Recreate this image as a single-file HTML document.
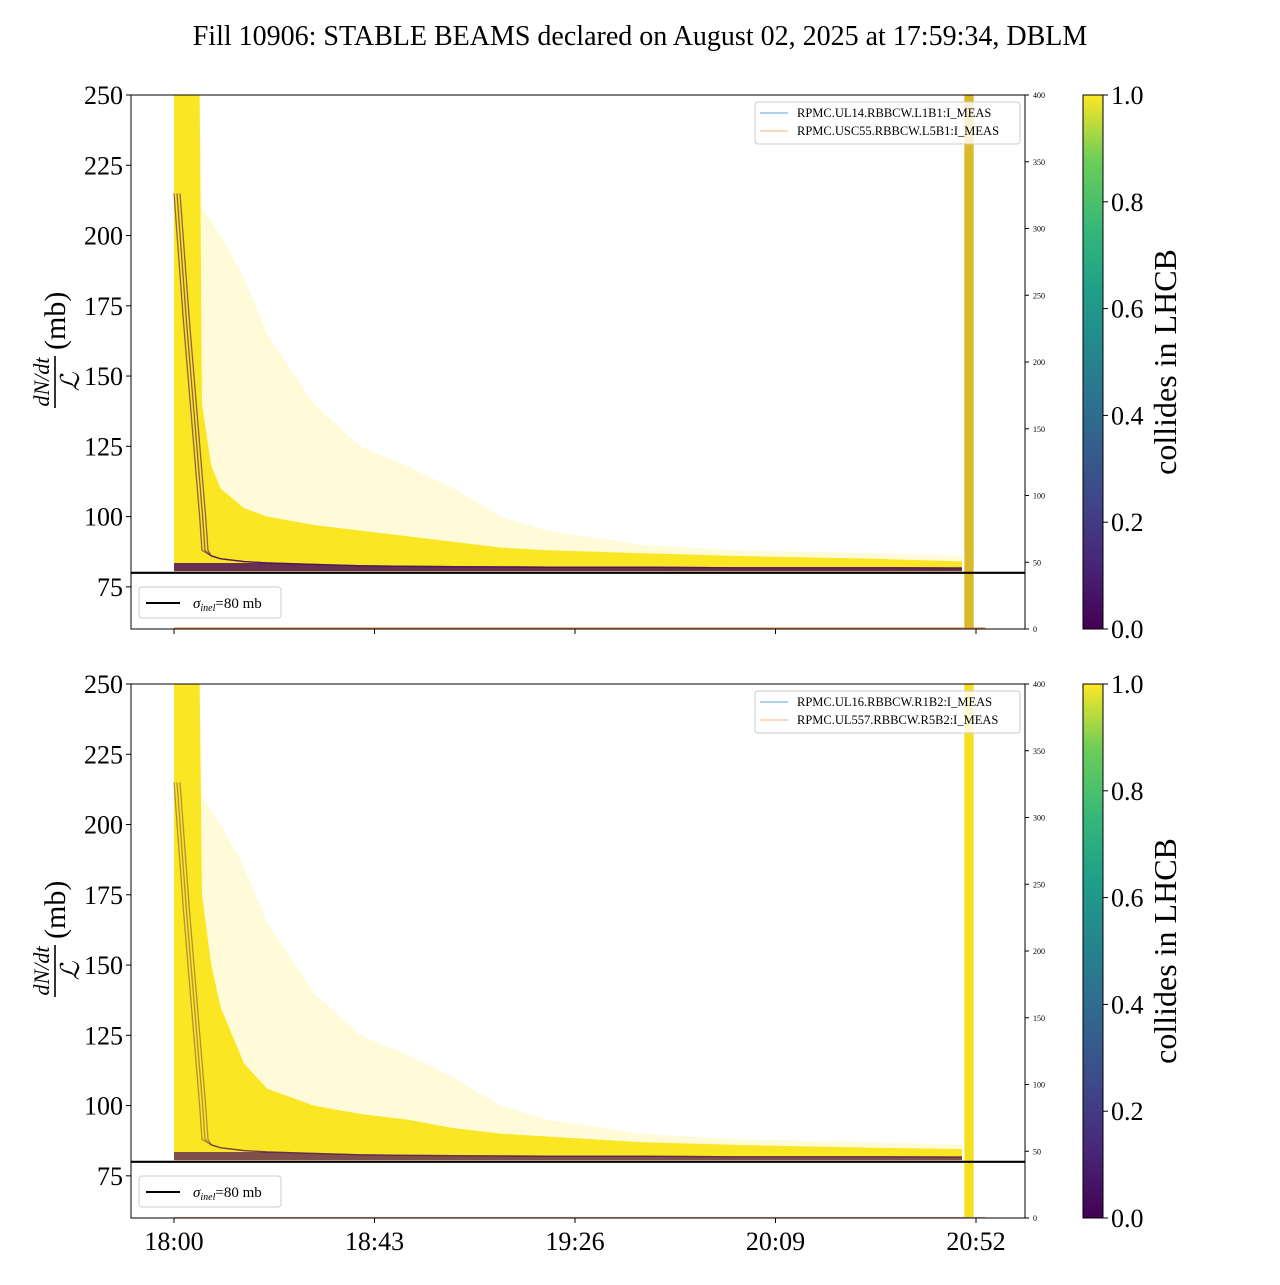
<!DOCTYPE html>
<html><head><meta charset="utf-8">
<style>
body{margin:0;background:#fff;}
svg text{font-family:"Liberation Serif",serif;}
</style></head>
<body>
<svg id="chart" width="1280" height="1280" viewBox="0 0 1280 1280" xmlns="http://www.w3.org/2000/svg">
<defs>
<linearGradient id="viridis" x1="0" y1="1" x2="0" y2="0">
<stop offset="0" stop-color="#440154"/><stop offset="0.13" stop-color="#482878"/>
<stop offset="0.25" stop-color="#3e4989"/><stop offset="0.38" stop-color="#31688e"/>
<stop offset="0.5" stop-color="#26828e"/><stop offset="0.63" stop-color="#1f9e89"/>
<stop offset="0.75" stop-color="#35b779"/><stop offset="0.88" stop-color="#6ece58"/>
<stop offset="1" stop-color="#fde725"/>
</linearGradient>
</defs>
<text x="640" y="45" text-anchor="middle" font-size="28">Fill 10906: STABLE BEAMS declared on August 02, 2025 at 17:59:34, DBLM</text>
</svg>
<script>
// data (time in minutes after 18:00, values in mb)
const times = [0, 2, 4, 5.5, 6, 8, 10, 15, 20, 30, 40, 50, 60, 70, 80, 100, 120, 150, 169];
const faintTop = [250, 250, 250, 250, 210, 205, 200, 185, 165, 140, 125, 118, 110, 100, 95, 90, 88, 87, 86];
const denseTopA = [250, 250, 250, 250, 140, 118, 110, 103, 100, 97, 95, 93, 91, 89, 88, 87, 86, 85, 84];
const denseTopB = [250, 250, 250, 250, 175, 150, 135, 115, 106, 100, 97, 95, 92, 90, 89, 87, 86, 85, 84.5];
const purpleTop = [215, 170, 130, 100, 88, 86, 85, 84, 83.5, 83, 82.5, 82.3, 82.2, 82.1, 82, 82, 81.8, 81.8, 81.7];
const sigmaInel = 80;
const bandTimes = [169.5, 171.5];
const yTicks = [75, 100, 125, 150, 175, 200, 225, 250];
const rTicks = [0, 50, 100, 150, 200, 250, 300, 350, 400];
const xTickMin = [0, 43, 86, 129, 172];
const xTickLabels = ["18:00", "18:43", "19:26", "20:09", "20:52"];
const cbTicks = [0, 0.2, 0.4, 0.6, 0.8, 1.0];
const legends = [["RPMC.UL14.RBBCW.L1B1:I_MEAS","RPMC.USC55.RBBCW.L5B1:I_MEAS"],["RPMC.UL16.RBBCW.R1B2:I_MEAS","RPMC.UL557.RBBCW.R5B2:I_MEAS"]];

const svg = document.getElementById('chart');
const NS = 'http://www.w3.org/2000/svg';
const X0 = 131, X1 = 1025, H = 534;
const xs = t => 174 + t * (200.5 / 43);
function mk(tag, attrs, parent) {
  const e = document.createElementNS(NS, tag);
  for (const k in attrs) e.setAttribute(k, attrs[k]);
  (parent || svg).appendChild(e);
  return e;
}
function panel(p, top) {
  const ys = v => top + (250 - v) / 190 * H;
  const rs = v => top + H - v / 400 * H;
  const g = mk('g', {});
  
  
  const cp = mk('clipPath', {id: 'clip' + p}, g);
  mk('rect', {x: X0, y: top, width: X1 - X0, height: H}, cp);
  const dg = mk('g', {'clip-path': 'url(#clip' + p + ')'}, g);
  const area = (arr, lowV) => {
    let d = 'M' + xs(times[0]) + ',' + ys(lowV);
    times.forEach((t, i) => d += ' L' + xs(t) + ',' + ys(arr[i]));
    d += ' L' + xs(times[times.length - 1]) + ',' + ys(lowV) + 'Z';
    return d;
  };
  const f = mk('path', {d: area(faintTop, 80.5), fill: '#fde725', opacity: 0.18}, dg);
  
  
  const b = mk('path', {d: area(p ? denseTopB : denseTopA, 80.5), fill: '#fae622'}, dg);
  
  
  // purple band near bottom
  let d = 'M' + xs(times[0]) + ',' + ys(80.6);
  times.forEach((t, i) => d += ' L' + xs(t) + ',' + ys(Math.min(purpleTop[i], 83.5)));
  d += ' L' + xs(times[times.length - 1]) + ',' + ys(80.6) + 'Z';
  const pu = mk('path', {d: d, fill: '#4a0f5c', opacity: p ? 0.7 : 0.85}, dg);
  
  
  // purple traces
  [0, 3, 6].forEach((off, k) => {
    let ld = '';
    times.forEach((t, i) => ld += (i ? ' L' : 'M') + (xs(t) + off * (t < 8 ? 1 : 0)) + ',' + ys(purpleTop[i]));
    const pl = mk('path', {d: ld, fill: 'none', stroke: '#4a0f5c', 'stroke-width': 1.3, opacity: p ? 0.4 : 0.6}, dg);
    
    
  });
  const band = mk('rect', {x: xs(bandTimes[0]), y: top, width: xs(bandTimes[1]) - xs(bandTimes[0]), height: H, fill: p ? '#f5e020' : '#d9b82a'}, dg);
  
  
  const o = mk('line', {x1: xs(0), x2: xs(174), y1: rs(p ? 0.3 : 0.6), y2: rs(p ? 0.3 : 0.6), stroke: p ? '#d8b8a0' : '#e0803a', 'stroke-width': 1.5}, dg);
  
  
  const sl = mk('line', {x1: X0, x2: X1, y1: ys(sigmaInel), y2: ys(sigmaInel), stroke: '#000', 'stroke-width': 2.2}, g);
  
  
  const fr = mk('rect', {x: X0, y: top, width: X1 - X0, height: H, fill: 'none', stroke: '#000', 'stroke-width': 1}, g);
  
  
  yTicks.forEach(v => {
    mk('line', {x1: X0 - 5, x2: X0, y1: ys(v), y2: ys(v), stroke: '#000'}, g);
    const t = mk('text', {x: X0 - 8, y: ys(v) + 9, 'text-anchor': 'end', 'font-size': 26}, g);
    t.textContent = v;
    
    
  });
  rTicks.forEach(v => {
    mk('line', {x1: X1, x2: X1 + 4, y1: rs(v), y2: rs(v), stroke: '#000'}, g);
    const t = mk('text', {x: X1 + 8, y: rs(v) + 3, 'font-size': 8}, g);
    t.textContent = v;
    
    
  });
  xTickMin.forEach((m, i) => {
    mk('line', {x1: xs(m), x2: xs(m), y1: top + H, y2: top + H + 5, stroke: '#000'}, g);
    if (p) {
      const t = mk('text', {x: xs(m), y: top + H + 32, 'text-anchor': 'middle', 'font-size': 26}, g);
      t.textContent = xTickLabels[i];
      
      
    }
  });
  const yl = mk('g', {transform: 'translate(58,' + (top + 267) + ') rotate(-90)'}, g);
  
  
  const n = mk('text', {x: -20, y: -9, 'text-anchor': 'middle', 'font-size': 22, 'font-style': 'italic'}, yl); n.textContent = 'dN/dt';
  mk('line', {x1: -46, x2: 6, y1: -3, y2: -3, stroke: '#000', 'stroke-width': 1.6}, yl);
  const l = mk('text', {x: -20, y: 21, 'text-anchor': 'middle', 'font-size': 26, 'font-style': 'italic'}, yl); l.textContent = 'ℒ';
  const mb = mk('text', {x: 12, y: 7, 'font-size': 30}, yl); mb.textContent = '(mb)';
  const lg = mk('g', {}, g);
  
  
  mk('rect', {x: 139, y: top + 492, width: 142, height: 31, rx: 3, fill: '#fff', stroke: '#ccc'}, lg);
  mk('line', {x1: 146, x2: 180, y1: top + 508, y2: top + 508, stroke: '#000', 'stroke-width': 2}, lg);
  const lt = mk('text', {x: 193, y: top + 513, 'font-size': 15}, lg);
  lt.innerHTML = '<tspan font-style="italic">σ</tspan><tspan font-style="italic" font-size="10" dy="3">inel</tspan><tspan dy="-3">=80 mb</tspan>';
  const rg = mk('g', {}, g);
  
  
  mk('rect', {x: 755, y: top + 7, width: 265, height: 42, rx: 3, fill: '#fff', 'fill-opacity': 0.8, stroke: '#ccc'}, rg);
  ['#5da5da', '#f5b07a'].forEach((c, i) => {
    mk('line', {x1: 760, x2: 788, y1: top + 18 + i * 18, y2: top + 18 + i * 18, stroke: c, 'stroke-width': 1}, rg);
    const t = mk('text', {x: 797, y: top + 22 + i * 18, 'font-size': 12.5}, rg);
    t.textContent = legends[p][i];
  });
  const cb = mk('g', {}, g);
  
  
  mk('rect', {x: 1083, y: top, width: 20, height: H, fill: 'url(#viridis)', stroke: '#000', 'stroke-width': 1}, cb);
  cbTicks.forEach(v => {
    const y = top + H - v * H;
    mk('line', {x1: 1103, x2: 1108, y1: y, y2: y, stroke: '#000'}, cb);
    const t = mk('text', {x: 1111, y: y + 9, 'font-size': 26}, cb);
    t.textContent = v.toFixed(1);
  });
  const ct = mk('text', {transform: 'translate(1176,' + (top + 267) + ') rotate(-90)', 'text-anchor': 'middle', 'font-size': 32}, cb);
  ct.textContent = 'collides in LHCB';
}
panel(0, 95);
panel(1, 684);
</script>
</body></html>
